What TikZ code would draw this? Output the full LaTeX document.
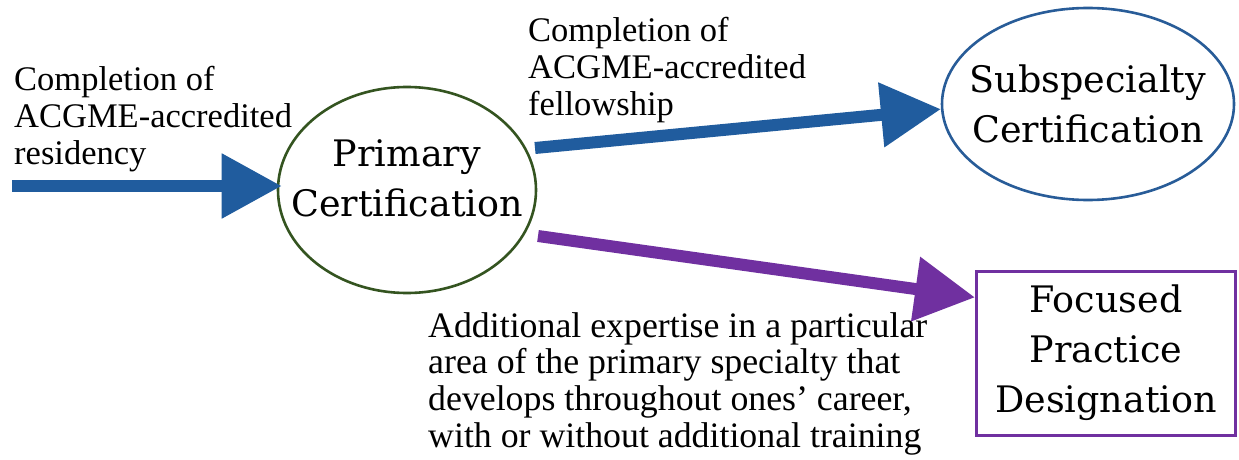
\documentclass[tikz,border=0pt]{standalone}
\usepackage{fontspec}
\setmainfont{Liberation Serif}
\newfontfamily\titlefamily{DejaVu Serif}
\usetikzlibrary{arrows.meta,shapes.geometric}

\definecolor{primgreen}{RGB}{52,84,32}
\definecolor{arrowblue}{RGB}{32,92,158}
\definecolor{subblue}{RGB}{40,92,152}
\definecolor{focuspurple}{RGB}{112,48,160}

\tikzset{
  certnode/.style={ellipse, draw, line width=2.6pt, inner sep=0pt},
  certtext/.style={inner sep=0pt, align=center, font=\titlefamily\fontsize{36.5}{50}\selectfont},
  focusbox/.style={rectangle, draw, line width=3pt, inner sep=0pt, align=center, font=\titlefamily\fontsize{36.5}{50}\selectfont},
  flowarrow/.style={line width=12pt, -{Triangle[length=60pt,width=62pt]}},
  note/.style={anchor=north west, inner sep=0pt, align=left, font=\rmfamily\fontsize{34.5}{37}\selectfont},
  longnote/.style={note, font=\rmfamily\fontsize{35.8}{36.7}\selectfont}
}

\begin{document}
\begin{tikzpicture}[x=1pt, y=-1pt]
  \useasboundingbox[fill=white] (0,0) rectangle (1239,460);
  % labels
  \node[note] (residtext) at (14,66) {Completion of\\ACGME-accredited\\residency};
  \node[note] (fellowtext) at (528,17) {Completion of\\ACGME-accredited\\fellowship};
  \node[longnote] (experttext) at (428,312) {Additional expertise in a particular\\area of the primary specialty that\\develops throughout ones’ career,\\with or without additional training};
  % certification nodes
  \node[certnode, primgreen, minimum width=258pt, minimum height=206pt] (prim) at (407,190) {};
  \node[certtext] (primtext) at ([yshift=12pt]prim.center) {Primary\\Certification};
  \node[certnode, subblue, minimum width=292pt, minimum height=192pt] (subsp) at (1088,104) {};
  \node[certtext] (subsptext) at (subsp.center) {Subspecialty\\Certification};
  \node[focusbox, focuspurple, text=black, minimum width=259pt, minimum height=164pt] (focus) at (1106,353) {Focused\\Practice\\Designation};
  % free ends of the arrows
  \coordinate (resid) at (12,186);
  \coordinate (fellow) at (535,148);
  \coordinate (expert) at (538,236);
  \draw[flowarrow, arrowblue] (resid) -- ([xshift=5pt]resid -| prim.west);
  \draw[flowarrow, arrowblue] (fellow) -- (subsp.182);
  \draw[flowarrow, focuspurple] (expert) -- (focus.157);
\end{tikzpicture}
\end{document}
